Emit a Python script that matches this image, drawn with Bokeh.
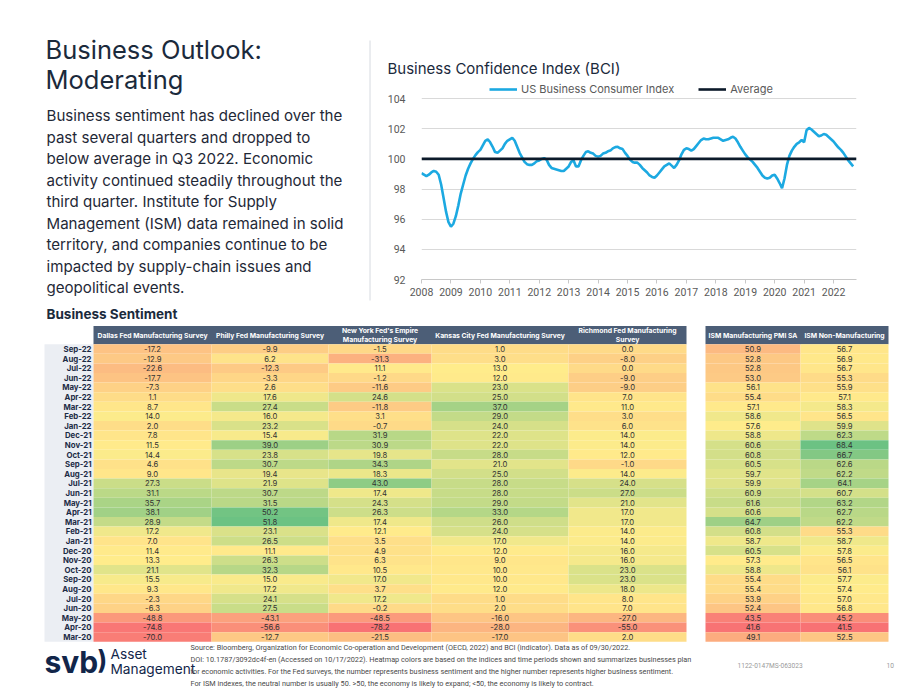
from bokeh.plotting import figure
from bokeh.models import Range1d, FixedTicker, Legend, LegendItem, ColumnDataSource
from bokeh.layouts import column, row
from bokeh.embed import file_html
from bokeh.resources import INLINE
from bokeh.core.properties import value
import numpy as np

# ---------------- Business Confidence Index, monthly from Jan 2008 ----------------
bci_first_year = 2008
bci_2008 = [99.05, 98.95, 98.85, 98.95, 99.1, 99.2, 99.15, 98.95, 98.3, 97.4, 96.5, 95.8]
bci_2009 = [95.5, 95.7, 96.2, 96.9, 97.7, 98.3, 98.9, 99.35, 99.7, 100.0, 100.25, 100.45]
bci_2010 = [100.6, 100.9, 101.2, 101.3, 101.1, 100.8, 100.45, 100.4, 100.55, 100.7, 101.0, 101.2]
bci_2011 = [101.3, 101.4, 101.2, 100.8, 100.4, 100.1, 99.8, 99.65, 99.6, 99.6, 99.7, 99.85]
bci_2012 = [99.9, 100.0, 100.05, 99.95, 99.6, 99.4, 99.35, 99.3, 99.25, 99.2, 99.2, 99.35]
bci_2013 = [99.5, 99.8, 99.9, 99.5, 99.5, 99.9, 100.2, 100.45, 100.5, 100.4, 100.35, 100.2]
bci_2014 = [100.15, 100.2, 100.35, 100.4, 100.5, 100.55, 100.7, 100.78, 100.8, 100.7, 100.65, 100.4]
bci_2015 = [100.2, 99.95, 99.8, 99.75, 99.75, 99.6, 99.4, 99.25, 99.1, 98.9, 98.8, 98.75]
bci_2016 = [98.9, 99.1, 99.3, 99.5, 99.6, 99.7, 99.55, 99.4, 99.6, 99.9, 100.3, 100.6]
bci_2017 = [100.7, 100.65, 100.55, 100.65, 100.85, 101.05, 101.25, 101.35, 101.3, 101.3, 101.35, 101.4]
bci_2018 = [101.4, 101.4, 101.3, 101.2, 101.25, 101.3, 101.4, 101.47, 101.35, 101.1, 100.8, 100.55]
bci_2019 = [100.3, 100.1, 99.95, 99.8, 99.6, 99.4, 99.15, 98.9, 98.75, 98.7, 98.75, 98.9]
bci_2020 = [98.95, 98.7, 98.4, 98.05, 98.7, 99.6, 100.2, 100.55, 100.8, 101.0, 101.1, 101.25]
bci_2021 = [101.1, 101.9, 102.05, 101.95, 101.8, 101.65, 101.5, 101.55, 101.65, 101.6, 101.45, 101.3]
bci_2022 = [101.15, 100.95, 100.75, 100.6, 100.4, 100.15, 99.9, 99.7, 99.5]
bci_average = 100.0
year_ticks = list(range(2008, 2023))
bci_ticks = [92, 94, 96, 98, 100, 102, 104]

# ---------------- Business sentiment heatmap ----------------
months = ["Sep-22", "Aug-22", "Jul-22", "Jun-22", "May-22", "Apr-22", "Mar-22", "Feb-22",
          "Jan-22", "Dec-21", "Nov-21", "Oct-21", "Sep-21", "Aug-21", "Jul-21", "Jun-21",
          "May-21", "Apr-21", "Mar-21", "Feb-21", "Jan-21", "Dec-20", "Nov-20", "Oct-20",
          "Sep-20", "Aug-20", "Jul-20", "Jun-20", "May-20", "Apr-20", "Mar-20"]
dallas = [-17.2, -12.9, -22.6, -17.7, -7.3, 1.1, 8.7, 14.0, 2.0, 7.8, 11.5, 14.4, 4.6, 9.0,
          27.3, 31.1, 35.7, 38.1, 28.9, 17.2, 7.0, 11.4, 13.3, 21.1, 15.5, 9.3, -2.3, -6.3,
          -48.8, -74.8, -70.0]
philly = [-9.9, 6.2, -12.3, -3.3, 2.6, 17.6, 27.4, 16.0, 23.2, 15.4, 39.0, 23.8, 30.7, 19.4,
          21.9, 30.7, 31.5, 50.2, 51.8, 23.1, 26.5, 11.1, 26.3, 32.3, 15.0, 17.2, 24.1, 27.5,
          -43.1, -56.6, -12.7]
new_york = [-1.5, -31.3, 11.1, -1.2, -11.6, 24.6, -11.8, 3.1, -0.7, 31.9, 30.9, 19.8, 34.3,
            18.3, 43.0, 17.4, 24.3, 26.3, 17.4, 12.1, 3.5, 4.9, 6.3, 10.5, 17.0, 3.7, 17.2,
            -0.2, -48.5, -78.2, -21.5]
kansas_city = [1.0, 3.0, 13.0, 12.0, 23.0, 25.0, 37.0, 29.0, 24.0, 22.0, 22.0, 28.0, 21.0,
               25.0, 28.0, 28.0, 29.0, 33.0, 26.0, 24.0, 17.0, 12.0, 9.0, 10.0, 10.0, 12.0,
               1.0, 2.0, -16.0, -28.0, -17.0]
richmond = [0.0, -8.0, 0.0, -9.0, -9.0, 7.0, 11.0, 3.0, 6.0, 14.0, 14.0, 12.0, -1.0, 14.0,
            24.0, 27.0, 21.0, 17.0, 17.0, 14.0, 14.0, 16.0, 16.0, 23.0, 23.0, 18.0, 8.0, 7.0,
            -27.0, -55.0, 2.0]
ism_mfg = [50.9, 52.8, 52.8, 53.0, 56.1, 55.4, 57.1, 58.6, 57.6, 58.8, 60.6, 60.8, 60.5, 59.7,
           59.9, 60.9, 61.6, 60.6, 64.7, 60.8, 58.7, 60.5, 57.3, 58.8, 55.4, 55.4, 53.9, 52.4,
           43.5, 41.6, 49.1]
ism_non_mfg = [56.7, 56.9, 56.7, 55.3, 55.9, 57.1, 58.3, 56.5, 59.9, 62.3, 68.4, 66.7, 62.6,
               62.2, 64.1, 60.7, 63.2, 62.7, 62.2, 55.3, 58.7, 57.8, 56.5, 56.1, 57.7, 57.4,
               57.0, 56.8, 45.2, 41.5, 52.5]
survey_headers = [["Dallas Fed Manufacturing Survey"],
                  ["Philly Fed Manufacturing Survey"],
                  ["New York Fed's Empire", "Manufacturing Survey"],
                  ["Kansas City Fed Manufacturing Survey"],
                  ["Richmond Fed Manufacturing", "Survey"],
                  ["ISM Manufacturing PMI SA"],
                  ["ISM Non-Manufacturing"]]
fed_series = [dallas, philly, new_york, kansas_city, richmond]
ism_series = [ism_mfg, ism_non_mfg]

# ---------------- Slide copy ----------------
headline = ["Business Outlook:", "Moderating"]
body_lines = ["Business sentiment has declined over the",
              "past several quarters and dropped to",
              "below average in Q3 2022. Economic",
              "activity continued steadily throughout the",
              "third quarter. Institute for Supply",
              "Management (ISM) data remained in solid",
              "territory, and companies continue to be",
              "impacted by supply-chain issues and",
              "geopolitical events."]
footnote_lines = [
    "Source: Bloomberg, Organization for Economic Co-operation and Development (OECD, 2022) and BCI (indicator). Data as of 09/30/2022.",
    "DOI: 10.1787/3092dc4f-en (Accessed on 10/17/2022). Heatmap colors are based on the indices and time periods shown and summarizes businesses plan",
    "for economic activities. For the Fed surveys, the number represents business sentiment and the higher number represents higher business sentiment.",
    "For ISM indexes, the neutral number is usually 50. >50, the economy is likely to expand;  <50, the economy is likely to contract.",
]

FONT = "Inter"
NAVY = "#1B2A3C"
GRAY = "#595959"
ROW_H = 305


def bare_canvas(w, h):
    f = figure(width=w, height=h, x_range=Range1d(0, w), y_range=Range1d(h, 0),
               x_axis_location=None, y_axis_location=None, output_backend="svg",
               toolbar_location=None, min_border=0)
    f.grid.visible = False
    f.outline_line_color = None
    f.frame_align = False
    return f


# ---------------- Left: headline and commentary ----------------
intro = bare_canvas(375, ROW_H)
intro.text(x=[45] * 2, y=[49 + 30 * i for i in range(len(headline))], text=headline,
           text_font=value(FONT), text_font_size="25.5px", text_color=NAVY,
           text_baseline="middle")
intro.text(x=[46] * len(body_lines), y=[115 + 21.5 * i for i in range(len(body_lines))],
           text=body_lines, text_font=value(FONT), text_font_size="15.1px",
           text_color="#1F2937", text_baseline="middle")
intro.segment(x0=[369.5], y0=[40], x1=[369.5], y1=[300], line_color="#D6DAE0", line_width=1)

# ---------------- Right: BCI line chart ----------------
bci_values = (bci_2008 + bci_2009 + bci_2010 + bci_2011 + bci_2012 + bci_2013 + bci_2014 +
              bci_2015 + bci_2016 + bci_2017 + bci_2018 + bci_2019 + bci_2020 + bci_2021 +
              bci_2022)
bci_x = [bci_first_year + i / 12 for i in range(len(bci_values))]
x_lo, x_hi = 2008.0, 2022.78

chart = figure(width=545, height=ROW_H, x_range=Range1d(x_lo, x_hi), y_range=Range1d(92, 105),
               output_backend="svg", toolbar_location=None,
               min_border_left=46, min_border_right=64, min_border_top=83, min_border_bottom=26)
chart.frame_align = False
chart.outline_line_color = None
chart.title.text = "Business Confidence Index (BCI)"
chart.title.text_font = FONT
chart.title.text_font_size = "15px"
chart.title.text_font_style = "normal"
chart.title.text_color = NAVY
chart.title.align = "left"
chart.title.offset = -34
chart.title.standoff = 12

chart.xgrid.visible = False
chart.ygrid.grid_line_color = "#D9D9D9"
chart.ygrid.grid_line_width = 1
chart.yaxis.ticker = FixedTicker(ticks=bci_ticks)
chart.yaxis.axis_line_color = None
chart.yaxis.major_tick_line_color = None
chart.yaxis.minor_tick_line_color = None
chart.yaxis.major_label_standoff = 10
chart.xaxis.ticker = FixedTicker(ticks=year_ticks)
chart.xaxis.axis_line_color = "#C8C8C8"
chart.xaxis.major_tick_line_color = "#C8C8C8"
chart.xaxis.major_tick_in = 0
chart.xaxis.major_tick_out = 4
chart.xaxis.minor_tick_line_color = None
chart.xaxis.major_label_standoff = 4
for ax in (chart.xaxis, chart.yaxis):
    ax.major_label_text_font = "Roboto"
    ax.major_label_text_font_size = "10.5px"
    ax.major_label_text_color = GRAY

r_bci = chart.line(bci_x, bci_values, line_color="#1CA9E1", line_width=2.6)
r_avg = chart.line([x_lo, x_hi], [bci_average, bci_average], line_color="#0C1A2A", line_width=2.6)

legend = Legend(items=[LegendItem(label="US Business Consumer Index", renderers=[r_bci]),
                       LegendItem(label="Average", renderers=[r_avg])],
                orientation="horizontal", location=(68, 183), padding=0, margin=0,
                spacing=24, glyph_width=28, glyph_height=12, label_standoff=4,
                label_height=12, label_text_font=FONT, label_text_font_size="11px",
                label_text_color=GRAY, border_line_color=None, background_fill_alpha=0)
chart.add_layout(legend)

# ---------------- Bottom: heatmap table and footer ----------------
tbl = bare_canvas(920, 690 - ROW_H)
tbl.y_range = Range1d(690, ROW_H)

col_left = [93, 211, 328, 431, 568, 705, 800]
col_right = [211, 328, 431, 568, 686, 800, 888]
head_top, head_bottom, row_h = 325.5, 343.7, 9.6

RED, YEL, GRN = np.array([248, 105, 107]), np.array([255, 235, 132]), np.array([99, 190, 123])


def scale_colors(vals, pool):
    """Three-colour scale (red - yellow - green) with the pooled median as midpoint."""
    p = np.asarray(pool, dtype=float)
    lo, mid, hi = p.min(), np.percentile(p, 50), p.max()
    out = []
    for x in vals:
        if x <= mid:
            t = (x - lo) / (mid - lo) if mid > lo else 1.0
            c = RED + (YEL - RED) * t
        else:
            t = (x - mid) / (hi - mid)
            c = YEL + (GRN - YEL) * t
        c = c * 0.94 + 255 * 0.06
        out.append("#%02x%02x%02x" % tuple(int(round(k)) for k in c))
    return out


tbl.text(x=[46], y=[313], text=["Business Sentiment"], text_font=value(FONT),
         text_font_size="13.5px", text_font_style="bold", text_color=NAVY,
         text_baseline="middle")

n = len(months)
row_top = [head_bottom + i * row_h for i in range(n)]
row_mid = [t + row_h / 2 for t in row_top]

# label column
tbl.quad(left=[44], right=[col_left[0]], top=[head_bottom], bottom=[head_bottom + n * row_h],
         fill_color="#EBEEF3", line_color=None)
tbl.text(x=[91] * n, y=row_mid, text=months, text_font=value(FONT), text_font_size="7.8px",
         text_font_style="bold", text_color="#1B2B45", text_align="right", text_baseline="middle")

# header bands
tbl.quad(left=[col_left[0], col_left[5]], right=[col_right[4], col_right[6]],
         top=[head_top] * 2, bottom=[head_bottom] * 2, fill_color="#4C5E77", line_color=None)
hx, hy, ht = [], [], []
for j, lines in enumerate(survey_headers):
    cx = (col_left[j] + col_right[j]) / 2
    mid = (head_top + head_bottom) / 2
    offs = [0.0] if len(lines) == 1 else [-4.3, 4.3]
    for off, line in zip(offs, lines):
        hx.append(cx)
        hy.append(mid + off)
        ht.append(line)
tbl.text(x=hx, y=hy, text=ht, text_font=value(FONT), text_font_size="6.8px",
         text_font_style="bold", text_color="white", text_align="center", text_baseline="middle")

# cells
fed_pool = sum(fed_series, [])
ism_pool = sum(ism_series, [])
cells = dict(left=[], right=[], top=[], bottom=[], color=[], cx=[], cy=[], label=[])
for j, series in enumerate(fed_series + ism_series):
    colors = scale_colors(series, fed_pool if j < len(fed_series) else ism_pool)
    for i, v in enumerate(series):
        cells["left"].append(col_left[j])
        cells["right"].append(col_right[j])
        cells["top"].append(row_top[i])
        cells["bottom"].append(row_top[i] + row_h)
        cells["color"].append(colors[i])
        cells["cx"].append((col_left[j] + col_right[j]) / 2)
        cells["cy"].append(row_mid[i])
        cells["label"].append(f"{v:.1f}")
src = ColumnDataSource(cells)
tbl.quad(left="left", right="right", top="top", bottom="bottom", fill_color="color",
         line_color=None, source=src)
tbl.text(x="cx", y="cy", text="label", source=src, text_font=value(FONT),
         text_font_size="7.7px", text_color="#333333", text_align="center",
         text_baseline="middle")

# logo
tbl.text(x=[44], y=[661], text=["svb"], text_font=value(FONT), text_font_size="30px",
         text_font_style="bold", text_color="#12264A", text_baseline="middle")
tbl.text(x=[97], y=[659], text=[")"], text_font=value(FONT), text_font_size="26px",
         text_font_style="bold", text_color="#12264A", text_baseline="middle")
tbl.text(x=[110, 110], y=[653, 668], text=["Asset", "Management"], text_font=value(FONT),
         text_font_size="13.7px", text_color="#12264A", text_baseline="middle")

# footnotes
tbl.text(x=[190] * 4, y=[647, 659, 671, 683], text=footnote_lines, text_font=value("Roboto"),
         text_font_size="7.3px", text_color="#4A4A4A", text_baseline="middle")
tbl.text(x=[737, 886], y=[665, 665], text=["1122-0147MS-063023", "10"],
         text_font=value("Roboto"), text_font_size="6.6px", text_color="#9A9A9A",
         text_baseline="middle")

page = column(row(intro, chart, spacing=0), tbl, spacing=0)
open("out.html", "w").write(file_html(page, INLINE))
